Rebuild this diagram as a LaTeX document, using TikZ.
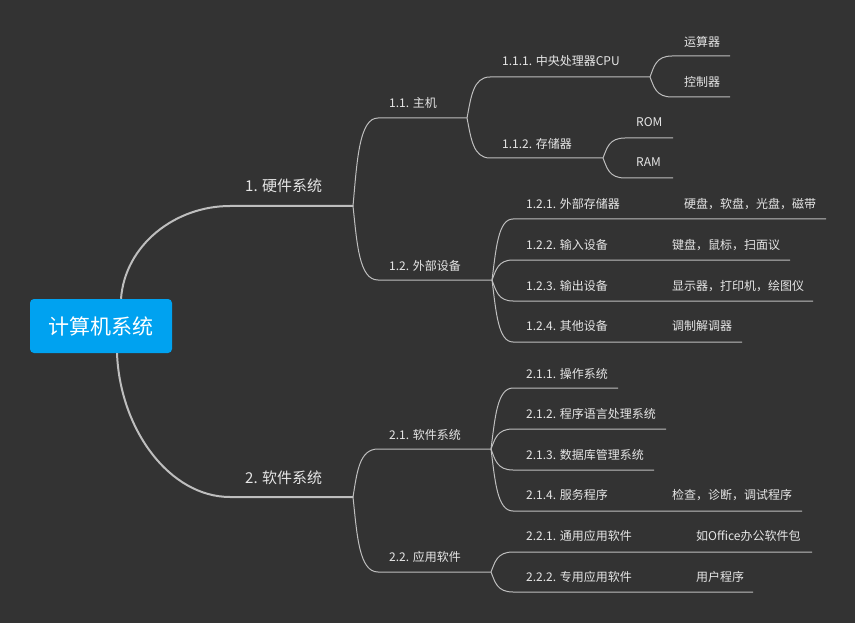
\documentclass[tikz,border=0pt]{standalone}
\usepackage{fontspec}
\setmainfont{Noto Sans CJK SC}
\usetikzlibrary{calc}
\definecolor{bg}{HTML}{333333}
\definecolor{rootblue}{HTML}{00A2F0}
\definecolor{txt}{HTML}{E6E6E6}
\definecolor{ln}{HTML}{BEBEBE}
\tikzset{
 lbl/.style={anchor=west, inner sep=0pt, text=txt, font=\fontsize{12}{14}\selectfont},
 lblone/.style={lbl, font=\fontsize{15}{18}\selectfont},
 thickln/.style={draw=ln, line width=2pt},
 thinln/.style={draw=ln, line width=1pt},
 rootbox/.style={fill=rootblue, rounded corners=4pt, text=white, font=\fontsize{21}{25}\selectfont, minimum width=142pt, minimum height=54pt, inner sep=0pt}
}
\newcommand\mmbranch[3]{\draw[thinln] (#1) .. controls ($(#1)!0.5!(#1|-#2)+(4,0)$) and ($(#1|-#2)+(6,0)$) .. (#2) -- (#3);}
\begin{document}
\begin{tikzpicture}[x=1pt,y=-1pt]
\fill[bg] (0,0) rectangle (855,623);
\useasboundingbox (0,0) rectangle (855,623);

\node[rootbox] (root) at (101,326) {计算机系统};

% level 1
\node[lblone] (hw) at (245,186) {1. 硬件系统};
\node[lblone] (sw) at (245,478) {2. 软件系统};
\coordinate (hw-s) at (230,206); \coordinate (hw-e) at (353,206);
\coordinate (sw-s) at (230,497); \coordinate (sw-e) at (353,497);
\draw[thickln] ([xshift=20pt]root.north) .. controls (125,245) and (175,206) .. (hw-s) -- (hw-e);
\draw[thickln] ([xshift=16pt]root.south) .. controls (120,430) and (170,497) .. (sw-s) -- (sw-e);

% level 2
\node[lbl] (n11) at (389,103) {1.1. 主机};
\node[lbl] (n12) at (389,266) {1.2. 外部设备};
\node[lbl] (n21) at (389,435) {2.1. 软件系统};
\node[lbl] (n22) at (389,557) {2.2. 应用软件};
\coordinate (n11-s) at (378,118); \coordinate (n11-e) at (467,118);
\coordinate (n12-s) at (378,280); \coordinate (n12-e) at (492,280);
\coordinate (n21-s) at (378,449); \coordinate (n21-e) at (491,449);
\coordinate (n22-s) at (378,572); \coordinate (n22-e) at (491,572);
\mmbranch{hw-e}{n11-s}{n11-e}
\mmbranch{hw-e}{n12-s}{n12-e}
\mmbranch{sw-e}{n21-s}{n21-e}
\mmbranch{sw-e}{n22-s}{n22-e}

% level 3 under 1.1
\node[lbl] (n111) at (502,61) {1.1.1. 中央处理器CPU};
\node[lbl] (n112) at (502,144) {1.1.2. 存储器};
\coordinate (n111-s) at (490,77); \coordinate (n111-e) at (650,77);
\coordinate (n112-s) at (490,158); \coordinate (n112-e) at (603,158);
\mmbranch{n11-e}{n111-s}{n111-e}
\mmbranch{n11-e}{n112-s}{n112-e}

% level 4
\node[lbl] (ys) at (684,42) {运算器};
\node[lbl] (kz) at (684,82) {控制器};
\coordinate (ys-s) at (672,56); \coordinate (ys-e) at (730,56);
\coordinate (kz-s) at (672,97); \coordinate (kz-e) at (730,97);
\mmbranch{n111-e}{ys-s}{ys-e}
\mmbranch{n111-e}{kz-s}{kz-e}
\node[lbl] (rom) at (636,122) {ROM};
\node[lbl] (ram) at (636,162) {RAM};
\coordinate (rom-s) at (625,138); \coordinate (rom-e) at (673,138);
\coordinate (ram-s) at (625,178); \coordinate (ram-e) at (673,178);
\mmbranch{n112-e}{rom-s}{rom-e}
\mmbranch{n112-e}{ram-s}{ram-e}

% level 3 under 1.2
\node[lbl] (n121) at (526,204) {1.2.1. 外部存储器};
\node[lbl] (n121a) at (684,204) {硬盘，软盘，光盘，磁带};
\node[lbl] (n122) at (526,245) {1.2.2. 输入设备};
\node[lbl] (n122a) at (672,245) {键盘，鼠标，扫面议};
\node[lbl] (n123) at (526,286) {1.2.3. 输出设备};
\node[lbl] (n123a) at (672,286) {显示器，打印机，绘图仪};
\node[lbl] (n124) at (526,326) {1.2.4. 其他设备};
\node[lbl] (n124a) at (672,326) {调制解调器};
\coordinate (n121-s) at (513,219); \coordinate (n121-e) at (826,219);
\coordinate (n122-s) at (513,260); \coordinate (n122-e) at (790,260);
\coordinate (n123-s) at (513,301); \coordinate (n123-e) at (813,301);
\coordinate (n124-s) at (513,342); \coordinate (n124-e) at (742,342);
\mmbranch{n12-e}{n121-s}{n121-e}
\mmbranch{n12-e}{n122-s}{n122-e}
\mmbranch{n12-e}{n123-s}{n123-e}
\mmbranch{n12-e}{n124-s}{n124-e}

% level 3 under 2.1
\node[lbl] (n211) at (526,374) {2.1.1. 操作系统};
\node[lbl] (n212) at (526,414) {2.1.2. 程序语言处理系统};
\node[lbl] (n213) at (526,455) {2.1.3. 数据库管理系统};
\node[lbl] (n214) at (526,495) {2.1.4. 服务程序};
\node[lbl] (n214a) at (672,495) {检查，诊断，调试程序};
\coordinate (n211-s) at (513,388); \coordinate (n211-e) at (618,388);
\coordinate (n212-s) at (513,429); \coordinate (n212-e) at (666,429);
\coordinate (n213-s) at (513,470); \coordinate (n213-e) at (654,470);
\coordinate (n214-s) at (513,511); \coordinate (n214-e) at (802,511);
\mmbranch{n21-e}{n211-s}{n211-e}
\mmbranch{n21-e}{n212-s}{n212-e}
\mmbranch{n21-e}{n213-s}{n213-e}
\mmbranch{n21-e}{n214-s}{n214-e}

% level 3 under 2.2
\node[lbl] (n221) at (526,536) {2.2.1. 通用应用软件};
\node[lbl] (n221a) at (696,536) {如Office办公软件包};
\node[lbl] (n222) at (526,577) {2.2.2. 专用应用软件};
\node[lbl] (n222a) at (696,577) {用户程序};
\coordinate (n221-s) at (513,552); \coordinate (n221-e) at (812,552);
\coordinate (n222-s) at (513,592); \coordinate (n222-e) at (753,592);
\mmbranch{n22-e}{n221-s}{n221-e}
\mmbranch{n22-e}{n222-s}{n222-e}
\end{tikzpicture}
\end{document}
